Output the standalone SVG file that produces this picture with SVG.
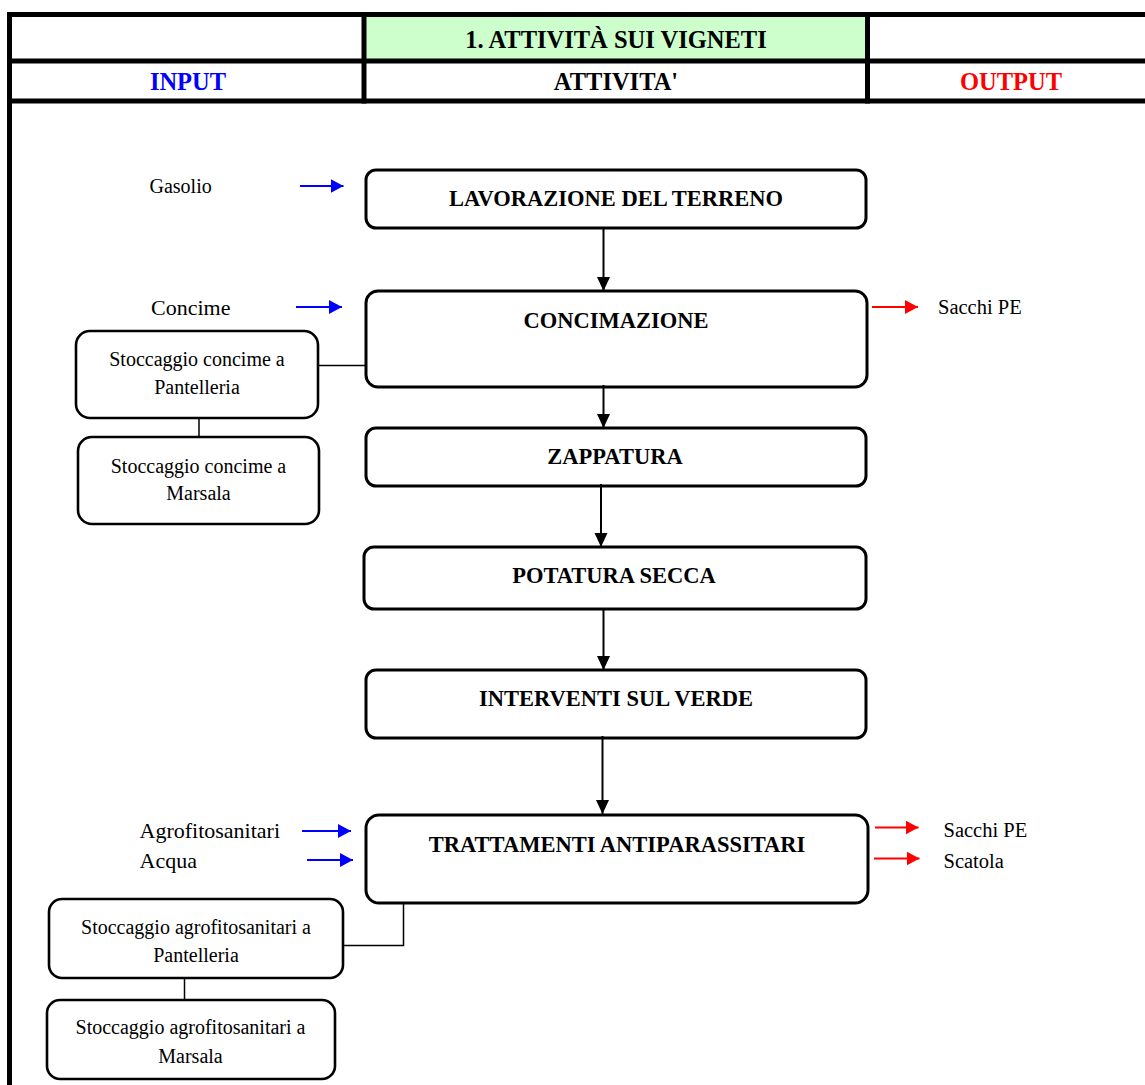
<svg xmlns="http://www.w3.org/2000/svg" width="1145" height="1085" viewBox="0 0 1145 1085">
  <style>
    .grid { stroke: #000; stroke-width: 5; fill: none; }
    .hdr { font-family: "Liberation Serif", "Times New Roman", serif; font-weight: bold; font-size: 24.5px; text-anchor: middle; }
    .step rect { fill: #fff; stroke: #000; stroke-width: 3; }
    .step text { font-family: "Liberation Serif", "Times New Roman", serif; font-weight: bold; font-size: 22.5px; text-anchor: middle; fill: #000; }
    .store rect { fill: #fff; stroke: #000; stroke-width: 2.6; }
    .store text { font-family: "Liberation Serif", "Times New Roman", serif; font-size: 20px; text-anchor: middle; fill: #000; }
    .lbl { font-family: "Liberation Serif", "Times New Roman", serif; fill: #000; }
    .flow { stroke: #000; stroke-width: 2; fill: none; }
    .in { stroke: #0000FF; stroke-width: 2.2; fill: none; }
    .out { stroke: #FF0000; stroke-width: 2.2; fill: none; }
    .link { stroke: #000; stroke-width: 1.5; fill: none; }
  </style>
  <defs>
    <marker id="headBlack" markerUnits="userSpaceOnUse" markerWidth="14" markerHeight="14" refX="14" refY="6.5" orient="auto">
      <path d="M0,0 L14,6.5 L0,13 z" fill="#000"/>
    </marker>
    <marker id="headBlue" markerUnits="userSpaceOnUse" markerWidth="14" markerHeight="14" refX="13" refY="7" orient="auto">
      <path d="M0,0 L13,7 L0,14 z" fill="#0000FF"/>
    </marker>
    <marker id="headRed" markerUnits="userSpaceOnUse" markerWidth="14" markerHeight="14" refX="13" refY="7" orient="auto">
      <path d="M0,0 L13,7 L0,14 z" fill="#FF0000"/>
    </marker>
  </defs>

  <rect width="1145" height="1085" fill="#fff"/>

  <!-- header table -->
  <g id="table">
    <rect x="366" y="17" width="500" height="42" fill="#CCFFCC"/>
    <line class="grid" x1="7" y1="14.5" x2="1145" y2="14.5"/>
    <line class="grid" x1="7" y1="61" x2="1145" y2="61"/>
    <line class="grid" x1="7" y1="101" x2="1145" y2="101"/>
    <line class="grid" x1="9.5" y1="12" x2="9.5" y2="1085"/>
    <line class="grid" x1="364" y1="12" x2="364" y2="103.5"/>
    <line class="grid" x1="867.5" y1="12" x2="867.5" y2="103.5"/>
    <text class="hdr" x="616" y="48" font-size="25">1. ATTIVITÀ SUI VIGNETI</text>
    <text class="hdr" x="188" y="90" fill="#0000FF">INPUT</text>
    <text class="hdr" x="616" y="90" fill="#000">ATTIVITA'</text>
    <text class="hdr" x="1011" y="90" fill="#FF0000">OUTPUT</text>
  </g>

  <!-- process steps -->
  <g id="lavorazione" class="step">
    <rect x="366" y="170" width="500" height="58" rx="10"/>
    <text x="616" y="206">LAVORAZIONE DEL TERRENO</text>
  </g>
  <g id="concimazione" class="step">
    <rect x="366" y="291" width="501" height="96" rx="12"/>
    <text x="616" y="328">CONCIMAZIONE</text>
  </g>
  <g id="zappatura" class="step">
    <rect x="366" y="428" width="500" height="58" rx="10"/>
    <text x="615" y="464">ZAPPATURA</text>
  </g>
  <g id="potatura" class="step">
    <rect x="364" y="547" width="502" height="62" rx="10"/>
    <text x="614" y="583">POTATURA SECCA</text>
  </g>
  <g id="interventi" class="step">
    <rect x="366" y="670" width="500" height="68" rx="10"/>
    <text x="616" y="706">INTERVENTI SUL VERDE</text>
  </g>
  <g id="trattamenti" class="step">
    <rect x="366" y="815" width="502" height="88" rx="13"/>
    <text x="617" y="852">TRATTAMENTI ANTIPARASSITARI</text>
  </g>

  <!-- storage sites -->
  <g id="stoccaggio-concime-pantelleria" class="store">
    <rect x="76" y="331" width="242" height="87" rx="14"/>
    <text x="197" y="366">Stoccaggio concime a</text>
    <text x="197" y="394">Pantelleria</text>
  </g>
  <g id="stoccaggio-concime-marsala" class="store">
    <rect x="78" y="437" width="241" height="87" rx="14"/>
    <text x="198.5" y="473">Stoccaggio concime a</text>
    <text x="198.5" y="500">Marsala</text>
  </g>
  <g id="stoccaggio-agro-pantelleria" class="store">
    <rect x="49" y="899" width="294" height="79" rx="13"/>
    <text x="196" y="934">Stoccaggio agrofitosanitari a</text>
    <text x="196" y="962">Pantelleria</text>
  </g>
  <g id="stoccaggio-agro-marsala" class="store">
    <rect x="47" y="1000" width="288" height="79" rx="13"/>
    <text x="190.5" y="1034">Stoccaggio agrofitosanitari a</text>
    <text x="190.5" y="1063">Marsala</text>
  </g>

  <!-- input / output labels -->
  <g id="labels" class="lbl">
    <text x="149.5" y="192.5" font-size="20">Gasolio</text>
    <text x="151" y="315" font-size="22">Concime</text>
    <text x="139.5" y="837.5" font-size="22">Agrofitosanitari</text>
    <text x="139.5" y="868.3" font-size="22">Acqua</text>
    <text x="938" y="314.3" font-size="20.5">Sacchi PE</text>
    <text x="943.5" y="837.3" font-size="20.5">Sacchi PE</text>
    <text x="943.5" y="868.3" font-size="20.5">Scatola</text>
  </g>

  <!-- connectors -->
  <g id="connectors">
    <line class="flow" x1="603.5" y1="228" x2="603.5" y2="291" marker-end="url(#headBlack)"/>
    <line class="flow" x1="603.5" y1="385" x2="603.5" y2="428" marker-end="url(#headBlack)"/>
    <line class="flow" x1="601" y1="484" x2="601" y2="547" marker-end="url(#headBlack)"/>
    <line class="flow" x1="603.5" y1="609" x2="603.5" y2="670" marker-end="url(#headBlack)"/>
    <line class="flow" x1="602.5" y1="736" x2="602.5" y2="814" marker-end="url(#headBlack)"/>

    <line class="in" x1="300" y1="186" x2="343.5" y2="186" marker-end="url(#headBlue)"/>
    <line class="in" x1="296" y1="307" x2="342" y2="307" marker-end="url(#headBlue)"/>
    <line class="in" x1="302" y1="831" x2="351" y2="831" marker-end="url(#headBlue)"/>
    <line class="in" x1="307" y1="860" x2="353" y2="860" marker-end="url(#headBlue)"/>

    <line class="out" x1="872" y1="307" x2="918" y2="307" marker-end="url(#headRed)"/>
    <line class="out" x1="875" y1="827.5" x2="918.5" y2="827.5" marker-end="url(#headRed)"/>
    <line class="out" x1="874" y1="858.5" x2="919.5" y2="858.5" marker-end="url(#headRed)"/>

    <line class="link" x1="318" y1="365.5" x2="366" y2="365.5"/>
    <line class="link" x1="199" y1="418" x2="199" y2="437"/>
    <polyline class="link" points="343,945.5 403.5,945.5 403.5,902"/>
    <line class="link" x1="184.5" y1="978" x2="184.5" y2="1000"/>
  </g>
</svg>
